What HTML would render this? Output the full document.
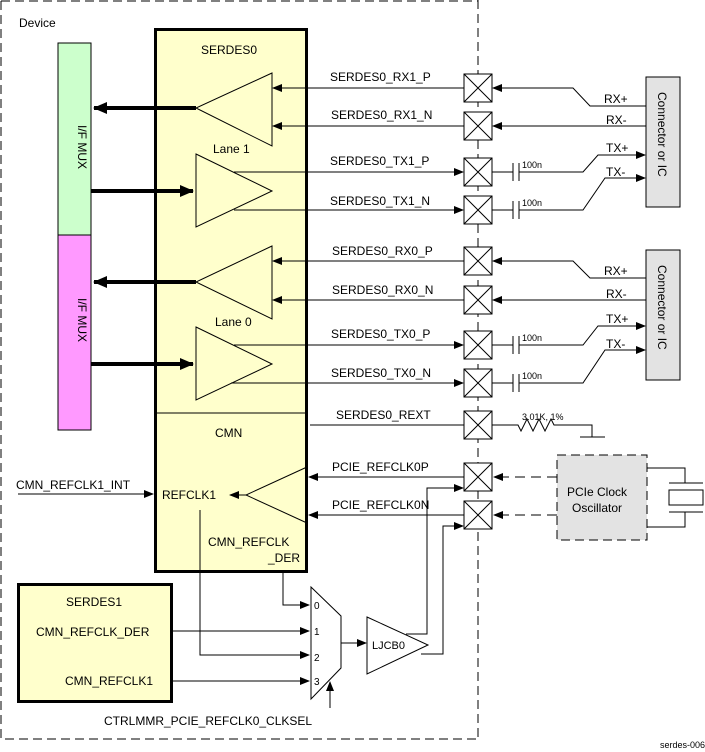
<!DOCTYPE html>
<html><head><meta charset="utf-8"><style>
html,body{margin:0;padding:0;background:#fff}
svg{display:block;font-family:"Liberation Sans",sans-serif}
text{font-size:12px;fill:#000}
</style></head><body>
<svg width="705" height="752" viewBox="0 0 705 752" xmlns="http://www.w3.org/2000/svg">
<defs>
<marker id="a" markerWidth="10" markerHeight="8" refX="9" refY="4" orient="auto" markerUnits="userSpaceOnUse"><path d="M0,0 L10,4 L0,8 z" fill="#000"/></marker>
<marker id="b" markerWidth="14" markerHeight="12" refX="13" refY="6" orient="auto" markerUnits="userSpaceOnUse"><path d="M0,0 L14,6 L0,12 z" fill="#000"/></marker>
</defs>
<g fill="none" stroke="#000">
<path d="M478,0 V740 M1,1 H478 M1,1 V739 H478" stroke-dasharray="9,5"/>
</g>
<text x="19" y="27">Device</text>
<rect x="58" y="43" width="33" height="192" fill="#ccffcc" stroke="#000"/>
<rect x="58" y="235" width="33" height="195" fill="#ff99ff" stroke="#000"/>
<text transform="translate(78,125) rotate(90)">I/F MUX</text>
<text transform="translate(78,298) rotate(90)">I/F MUX</text>
<rect x="155.5" y="29.5" width="151" height="542" fill="#ffffcc" stroke="#000" stroke-width="3"/>
<text x="201" y="54">SERDES0</text>
<line x1="155" y1="413" x2="306" y2="413" stroke="#000"/>
<text x="215" y="437">CMN</text>
<g fill="none" stroke="#000">
<path d="M272,73 L196,108 L272,146 Z"/>
<path d="M196,154 L272,191 L196,227 Z"/>
<path d="M272,246 L196,282 L272,319 Z"/>
<path d="M196,327 L272,364 L196,400 Z"/>
<path d="M307,467 L246,495 L307,523"/>
</g>
<text x="213" y="153">Lane 1</text>
<text x="215" y="326">Lane 0</text>
<g stroke="#000" stroke-width="4" fill="none">
<line x1="196" y1="108" x2="94" y2="108" marker-end="url(#b)"/>
<line x1="91" y1="191" x2="193" y2="191" marker-end="url(#b)"/>
<line x1="196" y1="282" x2="94" y2="282" marker-end="url(#b)"/>
<line x1="91" y1="364" x2="193" y2="364" marker-end="url(#b)"/>
</g>
<g stroke="#000" fill="none">
<line x1="464" y1="88" x2="273" y2="88" marker-end="url(#a)"/>
<line x1="464" y1="126" x2="273" y2="126" marker-end="url(#a)"/>
<line x1="234" y1="172" x2="463" y2="172" marker-end="url(#a)"/>
<line x1="234" y1="210" x2="463" y2="210" marker-end="url(#a)"/>
<line x1="464" y1="261" x2="273" y2="261" marker-end="url(#a)"/>
<line x1="464" y1="300" x2="273" y2="300" marker-end="url(#a)"/>
<line x1="234" y1="345" x2="463" y2="345" marker-end="url(#a)"/>
<line x1="231" y1="383" x2="463" y2="383" marker-end="url(#a)"/>
<line x1="310" y1="425" x2="464" y2="425"/>
<line x1="464" y1="477" x2="309" y2="477" marker-end="url(#a)"/>
<line x1="464" y1="515" x2="309" y2="515" marker-end="url(#a)"/>
<line x1="246" y1="495" x2="230" y2="495" marker-end="url(#a)"/>
<line x1="18" y1="494" x2="153" y2="494" marker-end="url(#a)"/>
<path d="M200,510 V655 H309" marker-end="url(#a)"/>
<path d="M283,572 V605 H309" marker-end="url(#a)"/>
<line x1="172" y1="631" x2="309" y2="631" marker-end="url(#a)"/>
<line x1="172" y1="681" x2="309" y2="681" marker-end="url(#a)"/>
<line x1="330" y1="708" x2="330" y2="682" marker-end="url(#a)"/>
<path d="M311,587 L341,616 V668 L311,699 Z"/>
<line x1="341" y1="643" x2="366" y2="643" marker-end="url(#a)"/>
<path d="M367,617 L428,645 L367,674 Z"/>
<path d="M406,634 H427 V488 H463" marker-end="url(#a)"/>
<path d="M421,654 H443 V526 H463" marker-end="url(#a)"/>
</g>
<text x="162" y="499">REFCLK1</text>
<text x="16" y="489">CMN_REFCLK1_INT</text>
<text x="208" y="546">CMN_REFCLK</text>
<text x="268" y="562">_DER</text>
<rect x="18.5" y="584.5" width="153" height="117" fill="#ffffcc" stroke="#000" stroke-width="3"/>
<text x="66" y="606">SERDES1</text>
<text x="36" y="636">CMN_REFCLK_DER</text>
<text x="65" y="685">CMN_REFCLK1</text>
<text x="314" y="609" style="font-size:10px">0</text><text x="314" y="635" style="font-size:10px">1</text><text x="314" y="661" style="font-size:10px">2</text><text x="314" y="685" style="font-size:10px">3</text>
<text x="372" y="649" style="font-size:11px">LJCB0</text>
<text x="104" y="725">CTRLMMR_PCIE_REFCLK0_CLKSEL</text>
<text x="660" y="748" style="font-size:9px">serdes-006</text>
<text x="330" y="81">SERDES0_RX1_P</text>
<text x="331" y="119">SERDES0_RX1_N</text>
<text x="330" y="165">SERDES0_TX1_P</text>
<text x="330" y="205">SERDES0_TX1_N</text>
<text x="332" y="255">SERDES0_RX0_P</text>
<text x="332" y="294">SERDES0_RX0_N</text>
<text x="331" y="338">SERDES0_TX0_P</text>
<text x="331" y="377">SERDES0_TX0_N</text>
<text x="336" y="419">SERDES0_REXT</text>
<text x="332" y="471">PCIE_REFCLK0P</text>
<text x="332" y="509">PCIE_REFCLK0N</text>
<!-- pads -->
<g fill="#fff" stroke="#000">
<rect x="464" y="74" width="28" height="28"/><path d="M464,74 L492,102 M492,74 L464,102"/>
<rect x="464" y="112" width="28" height="28"/><path d="M464,112 L492,140 M492,112 L464,140"/>
<rect x="464" y="158" width="28" height="28"/><path d="M464,158 L492,186 M492,158 L464,186"/>
<rect x="464" y="196" width="28" height="28"/><path d="M464,196 L492,224 M492,196 L464,224"/>
<rect x="464" y="247" width="28" height="28"/><path d="M464,247 L492,275 M492,247 L464,275"/>
<rect x="464" y="286" width="28" height="28"/><path d="M464,286 L492,314 M492,286 L464,314"/>
<rect x="464" y="331" width="28" height="28"/><path d="M464,331 L492,359 M492,331 L464,359"/>
<rect x="464" y="369" width="28" height="28"/><path d="M464,369 L492,397 M492,369 L464,397"/>
<rect x="464" y="411" width="28" height="28"/><path d="M464,411 L492,439 M492,411 L464,439"/>
<rect x="464" y="463" width="28" height="28"/><path d="M464,463 L492,491 M492,463 L464,491"/>
<rect x="464" y="501" width="28" height="28"/><path d="M464,501 L492,529 M492,501 L464,529"/>
</g>
<g fill="none" stroke="#000">
<path d="M646,106 H590 L573,88 H493" marker-end="url(#a)"/>
<line x1="646" y1="126" x2="493" y2="126" marker-end="url(#a)"/>
<path d="M492,172 H513 M519,172 H583 L598,155 H645" marker-end="url(#a)"/>
<path d="M492,210 H513 M519,210 H583 L605,178 H645" marker-end="url(#a)"/>
<path d="M513,163 V181 M519,163 V181 M513,201 V219 M519,201 V219"/>
<path d="M646,278 H590 L573,261 H493" marker-end="url(#a)"/>
<line x1="646" y1="300" x2="493" y2="300" marker-end="url(#a)"/>
<path d="M492,345 H513 M519,345 H583 L598,326 H645" marker-end="url(#a)"/>
<path d="M492,383 H513 M519,383 H583 L605,350 H645" marker-end="url(#a)"/>
<path d="M513,336 V354 M519,336 V354 M513,374 V392 M519,374 V392"/>
<path d="M492,425 H518 L521,431 L527,419 L533,431 L539,419 L545,431 L551,419 L554,425 H592 V437 M580,437 H605"/>
<path d="M557,477 H497 M557,515 H497" stroke-dasharray="10,6"/>
<path d="M647,468 H685 V483 M669,483 H703 M669,512 H703 M685,512 V527 H647"/>
<rect x="669" y="490" width="34" height="15"/>
</g>
<g fill="#000"><path d="M493,477 l10,-4 v8 z M493,515 l10,-4 v8 z"/></g>
<rect x="557" y="455" width="90" height="85" fill="#e3e3e3" stroke="#000" stroke-dasharray="9,5"/>
<text x="567" y="496">PCIe Clock</text>
<text x="572" y="512">Oscillator</text>
<text x="522" y="168" style="font-size:9px">100n</text>
<text x="522" y="206" style="font-size:9px">100n</text>
<text x="522" y="341" style="font-size:9px">100n</text>
<text x="522" y="379" style="font-size:9px">100n</text>
<text x="522" y="420" style="font-size:9px">3.01K, 1%</text>
<text x="604" y="103">RX+</text><text x="606" y="124">RX-</text>
<text x="606" y="152">TX+</text><text x="606" y="176">TX-</text>
<text x="604" y="275">RX+</text><text x="606" y="298">RX-</text>
<text x="606" y="323">TX+</text><text x="606" y="348">TX-</text>
<rect x="646" y="77" width="34" height="130" fill="#e3e3e3" stroke="#000"/>
<rect x="646" y="250" width="34" height="130" fill="#e3e3e3" stroke="#000"/>
<text transform="translate(658,92) rotate(90)">Connector or IC</text>
<text transform="translate(658,265) rotate(90)">Connector or IC</text>
</svg>
</body></html>
